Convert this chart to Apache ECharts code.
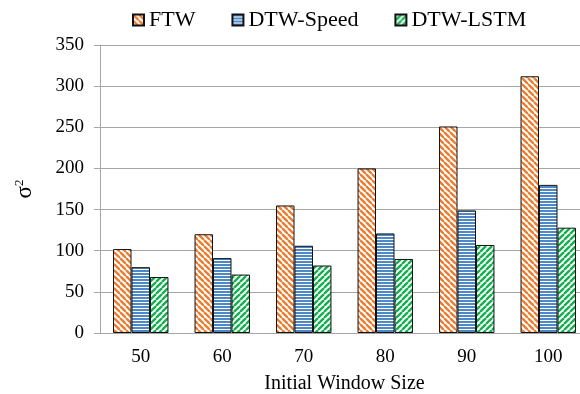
<!DOCTYPE html>
<html>
<head>
<meta charset="utf-8">
<script src="https://cdn.jsdelivr.net/npm/echarts@6/dist/echarts.min.js"></script>
<style>html,body{margin:0;padding:0;background:#fff}#c{width:580px;height:394px}</style>
</head>
<body>
<div id="c"></div>
<script>
const categories = ['50', '60', '70', '80', '90', '100'];
const seriesNames = ['FTW', 'DTW-Speed', 'DTW-LSTM'];
const ftw = [102, 120, 155, 200, 251, 312];
const dtwSpeed = [80, 91, 106, 121, 149, 180];
const dtwLstm = [68, 71, 82, 90, 107, 128];
const yTicks = [0, 50, 100, 150, 200, 250, 300, 350];

function pattern(kind, color) {
  const s = kind === 'h' ? 3 : 6;
  const c = document.createElement('canvas');
  c.width = s; c.height = s;
  const g = c.getContext('2d');
  g.fillStyle = '#fff'; g.fillRect(0, 0, s, s);
  g.strokeStyle = color;
  if (kind === 'h') {
    g.fillStyle = color; g.fillRect(0, 0, s, 2);
  } else {
    g.lineWidth = 2.4;
    for (let x0 = -s; x0 <= s; x0 += s) {
      g.beginPath();
      if (kind === 'd') { g.moveTo(x0, 0); g.lineTo(x0 + s, s); }
      else { g.moveTo(x0, s); g.lineTo(x0 + s, 0); }
      g.stroke();
    }
  }
  return { image: c, repeat: 'repeat' };
}

const font = "'Liberation Serif', 'Times New Roman', serif";
const chart = echarts.init(document.getElementById('c'));
const mk = (name, data, pat) => ({
  name, type: 'bar', data, barGap: '0%', barCategoryGap: '32%',
  itemStyle: { color: pat, borderColor: '#111', borderWidth: 1 }
});
chart.setOption({
  animation: false,
  textStyle: { fontFamily: font },
  legend: {
    top: 4, left: 127, itemGap: 36, itemWidth: 11, itemHeight: 11, icon: 'rect',
    textStyle: { fontFamily: font, fontSize: 22, color: '#000' },
    data: seriesNames
  },
  grid: { left: 100, top: 45, width: 489, height: 288, outerBoundsMode: 'none', containLabel: false },
  xAxis: {
    type: 'category', data: categories,
    name: 'Initial Window Size', nameLocation: 'middle', nameGap: 41,
    nameTextStyle: { fontFamily: font, fontSize: 20, color: '#000' },
    axisLine: { lineStyle: { color: '#a6a6a6' } },
    axisTick: { length: 6, lineStyle: { color: '#a6a6a6' } },
    axisLabel: { fontFamily: font, fontSize: 19, color: '#000', margin: 15 }
  },
  yAxis: {
    type: 'value', min: yTicks[0], max: yTicks[yTicks.length - 1], interval: 50,
    name: '{a|σ}{b|2}', nameLocation: 'middle', nameGap: 64, nameRotate: 90,
    nameTextStyle: { rich: { a: { fontFamily: font, fontSize: 23, color: '#000' }, b: { fontFamily: font, fontSize: 13, color: '#000', verticalAlign: 'top', padding: [0, 0, 8, 0] } } },
    axisLine: { show: true, lineStyle: { color: '#a6a6a6' } },
    axisTick: { show: true, length: 6, lineStyle: { color: '#a6a6a6' } },
    splitLine: { lineStyle: { color: '#a6a6a6' } },
    axisLabel: { fontFamily: font, fontSize: 19, color: '#000', margin: 16 }
  },
  series: [
    mk(seriesNames[0], ftw, pattern('d', '#ED7D31')),
    mk(seriesNames[1], dtwSpeed, pattern('h', '#4F88C6')),
    mk(seriesNames[2], dtwLstm, pattern('a', '#12B04E'))
  ]
});
</script>
</body>
</html>
